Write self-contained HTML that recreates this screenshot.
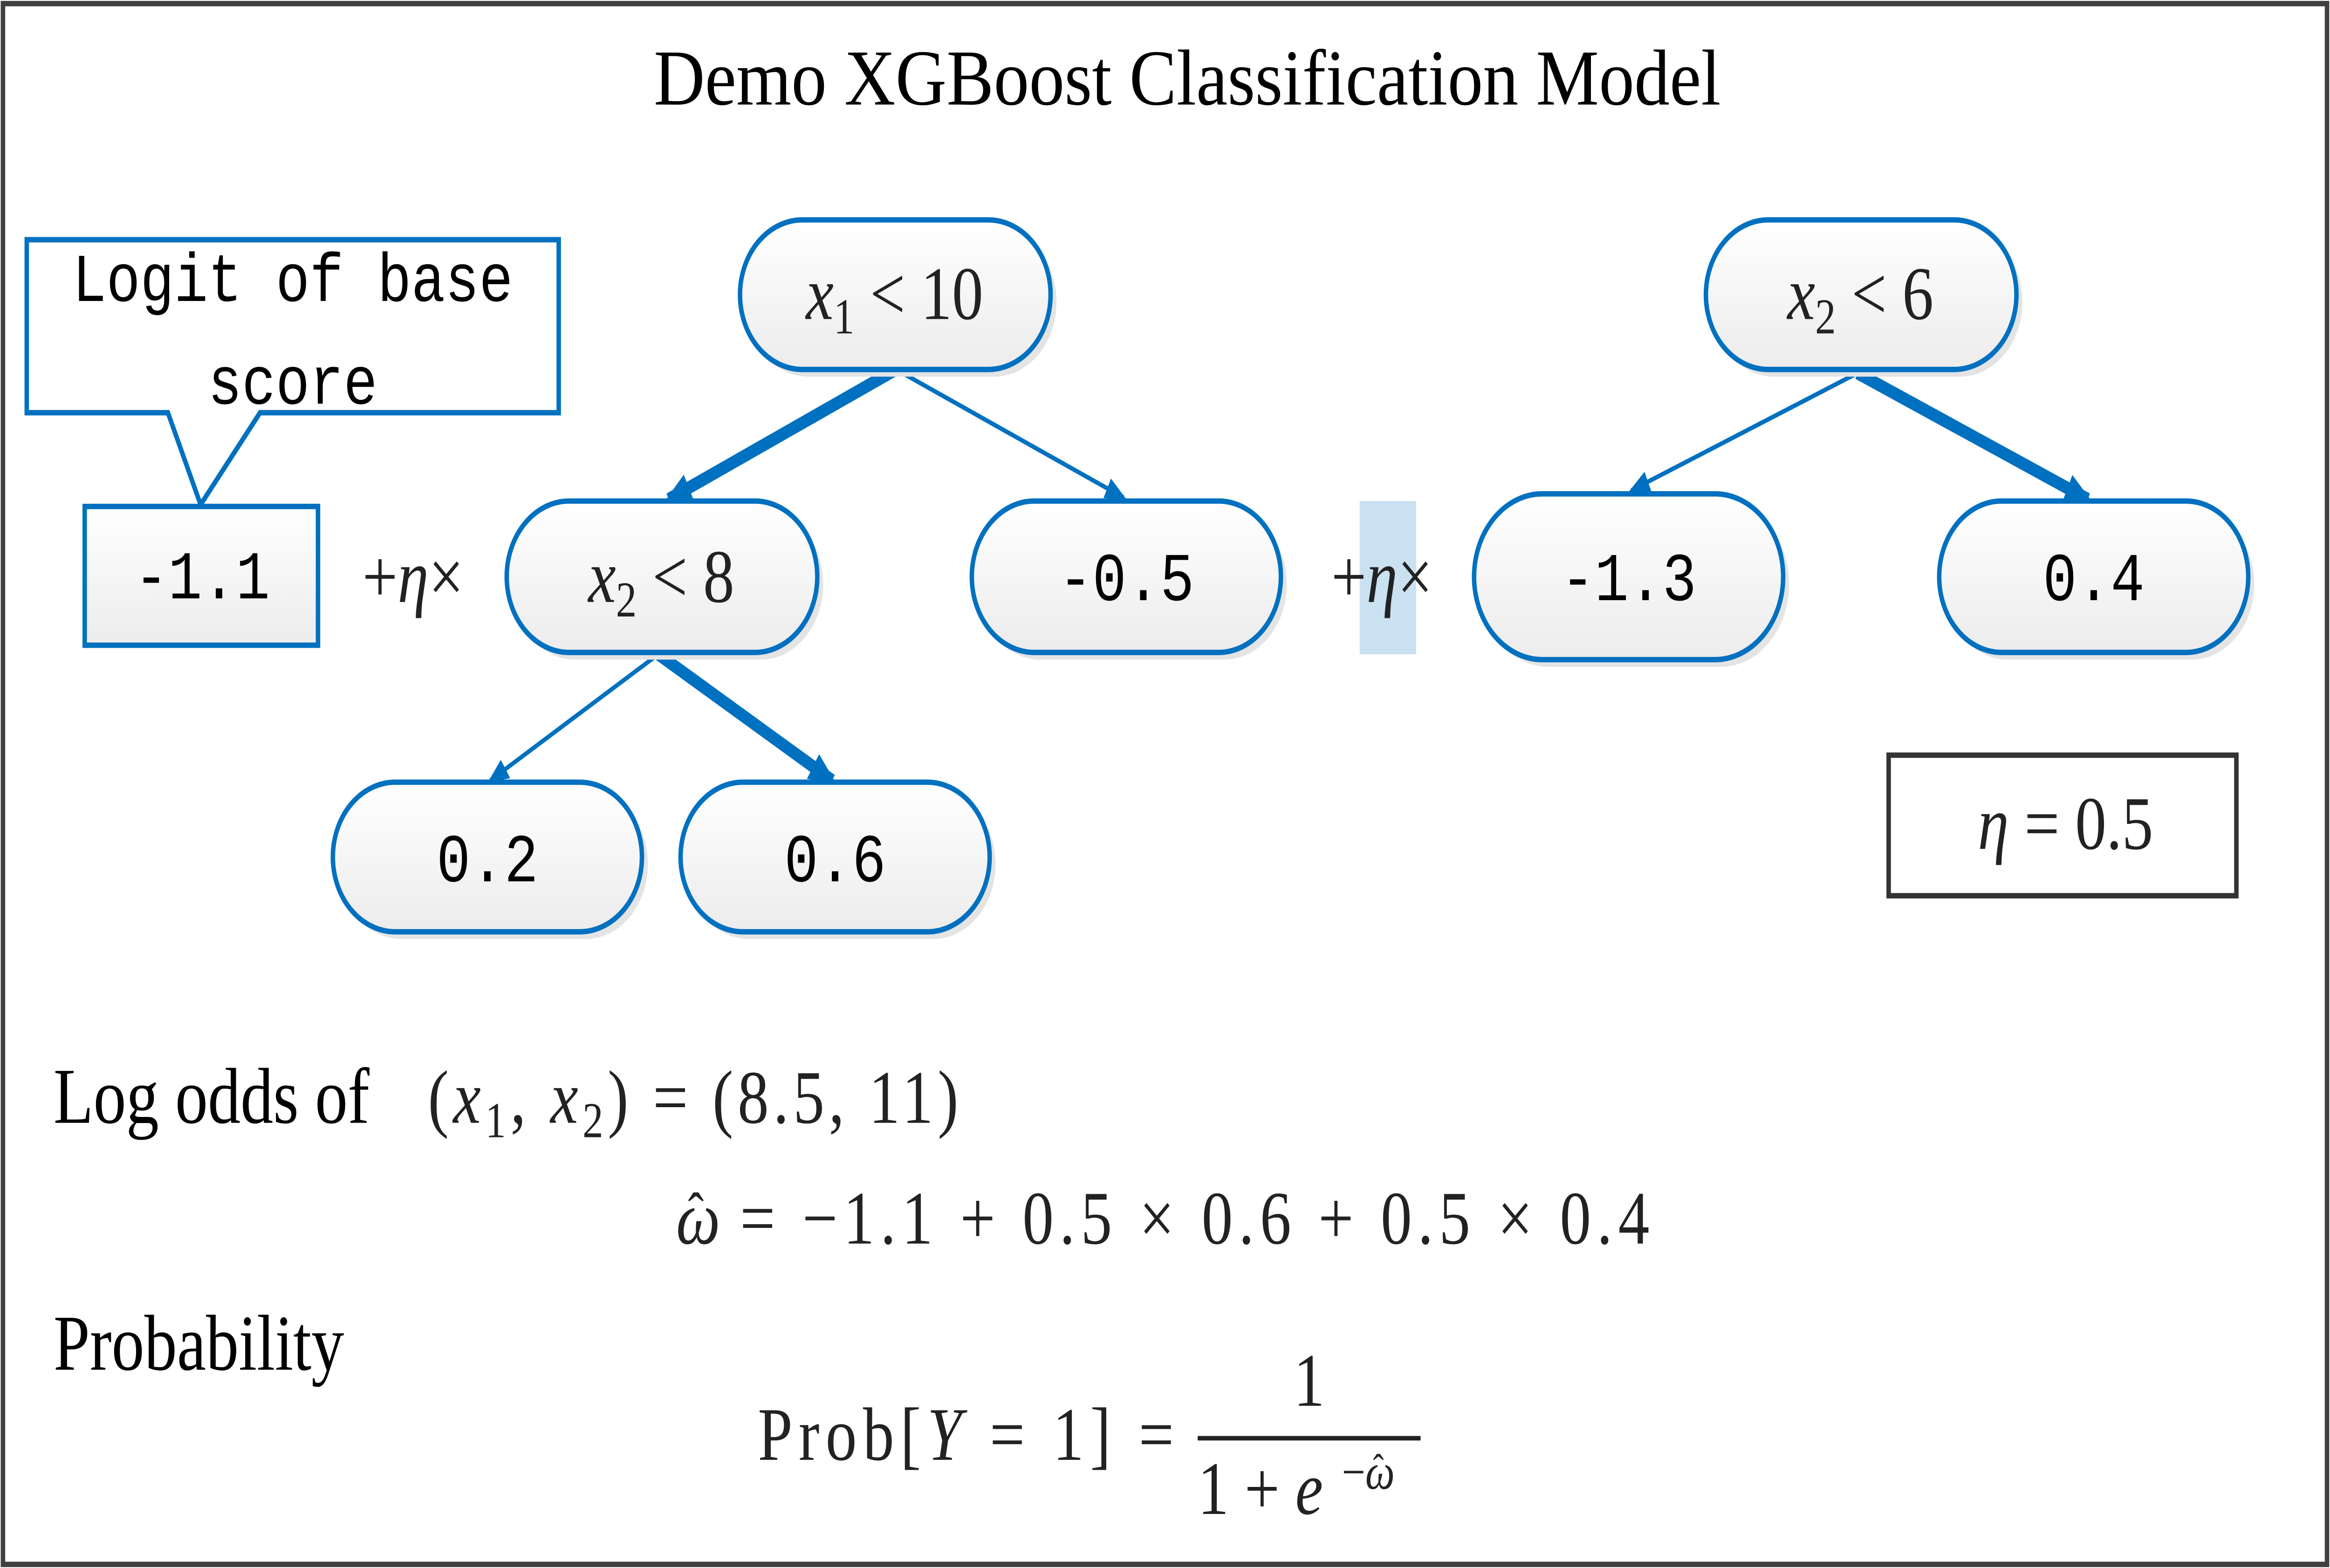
<!DOCTYPE html>
<html><head><meta charset="utf-8"><style>
html,body{margin:0;padding:0;background:#fff;width:100%;height:100%;overflow:hidden;}
svg{display:block;width:100vw;height:100vh;}
.mono{font-family:"Liberation Mono",monospace;font-size:38px;fill:#000;}
.ser{font-family:"Liberation Serif",serif;fill:#000;}
.math{font-family:"Liberation Serif",serif;fill:#222;}
</style></head><body>
<svg viewBox="0 0 1568 870" preserveAspectRatio="none" xmlns="http://www.w3.org/2000/svg">
<defs>
<linearGradient id="g" x1="0" y1="0" x2="0" y2="1"><stop offset="0" stop-color="#ffffff"/><stop offset="1" stop-color="#ececec"/></linearGradient>
<marker id="ahs" markerWidth="14" markerHeight="12" refX="12" refY="6" orient="auto" markerUnits="userSpaceOnUse"><path d="M0,0 L14,6 L0,12 z" fill="#0070C0"/></marker>
<marker id="ahb" markerWidth="18" markerHeight="16" refX="15" refY="8" orient="auto" markerUnits="userSpaceOnUse"><path d="M0,0 L18,8 L0,16 z" fill="#0070C0"/></marker>
</defs>
<rect x="2" y="2" width="1564" height="866" fill="#fff" stroke="#404040" stroke-width="3"/>
<text x="440" y="58" textLength="718" lengthAdjust="spacingAndGlyphs" class="ser" font-size="44">Demo XGBoost Classification Model</text>

<g>
<path d="M18,133 H376 V229 H175 L135,280 L113,229 H18 Z" fill="#fff" stroke="#0070C0" stroke-width="3"/>
<text x="197" y="167" text-anchor="middle" class="mono" xml:space="preserve">Logit of base</text>
<text x="197" y="224" text-anchor="middle" class="mono">score</text>
</g>
<rect x="57" y="281" width="157" height="77" fill="url(#g)" stroke="#0070C0" stroke-width="3"/>
<text x="136" y="332" text-anchor="middle" class="mono">-1.1</text>

<text x="278" y="334" text-anchor="middle" class="math" font-size="42">+<tspan font-style="italic">η</tspan>×</text>
<rect x="915" y="278" width="38" height="85" fill="#c9e1f1"/>
<text x="930" y="334" text-anchor="middle" class="math" font-size="42">+<tspan font-style="italic">η</tspan>×</text>

<g stroke="#0070C0" fill="none">
<line x1="603" y1="205" x2="450" y2="277" stroke-width="7" marker-end="url(#ahb)"/>
<line x1="603" y1="205" x2="756" y2="276" stroke-width="2.5" marker-end="url(#ahs)"/>
<line x1="443" y1="363" x2="330" y2="433" stroke-width="2.5" marker-end="url(#ahs)"/>
<line x1="443" y1="363" x2="560" y2="433" stroke-width="7" marker-end="url(#ahb)"/>
<line x1="1250" y1="207" x2="1098" y2="272" stroke-width="2.5" marker-end="url(#ahs)"/>
<line x1="1250" y1="207" x2="1405" y2="277" stroke-width="7" marker-end="url(#ahb)"/>
</g>

<g>
<g><rect x="502" y="126" width="209" height="83" rx="42" fill="#e4e4e4"/><rect x="498" y="122" width="209" height="83" rx="42" fill="url(#g)" stroke="#0070C0" stroke-width="3"/>
<text x="602" y="177" text-anchor="middle" class="math" font-size="42"><tspan font-style="italic">x</tspan><tspan font-size="28" dy="8">1</tspan><tspan dy="-8"> &lt; 10</tspan></text></g>
<g><rect x="345" y="282" width="209" height="84" rx="42" fill="#e4e4e4"/><rect x="341" y="278" width="209" height="84" rx="42" fill="url(#g)" stroke="#0070C0" stroke-width="3"/>
<text x="445" y="334" text-anchor="middle" class="math" font-size="42"><tspan font-style="italic">x</tspan><tspan font-size="28" dy="8">2</tspan><tspan dy="-8"> &lt; 8</tspan></text></g>
<g><rect x="658" y="282" width="208" height="84" rx="42" fill="#e4e4e4"/><rect x="654" y="278" width="208" height="84" rx="42" fill="url(#g)" stroke="#0070C0" stroke-width="3"/>
<text x="758" y="333" text-anchor="middle" class="mono">-0.5</text></g>
<g><rect x="1152" y="126" width="209" height="83" rx="42" fill="#e4e4e4"/><rect x="1148" y="122" width="209" height="83" rx="42" fill="url(#g)" stroke="#0070C0" stroke-width="3"/>
<text x="1252" y="177" text-anchor="middle" class="math" font-size="42"><tspan font-style="italic">x</tspan><tspan font-size="28" dy="8">2</tspan><tspan dy="-8"> &lt; 6</tspan></text></g>
<g><rect x="996" y="278" width="208" height="92" rx="46" fill="#e4e4e4"/><rect x="992" y="274" width="208" height="92" rx="46" fill="url(#g)" stroke="#0070C0" stroke-width="3"/>
<text x="1096" y="333" text-anchor="middle" class="mono">-1.3</text></g>
<g><rect x="1309" y="282" width="208" height="84" rx="42" fill="#e4e4e4"/><rect x="1305" y="278" width="208" height="84" rx="42" fill="url(#g)" stroke="#0070C0" stroke-width="3"/>
<text x="1409" y="333" text-anchor="middle" class="mono">0.4</text></g>
<g><rect x="228" y="438" width="208" height="83" rx="42" fill="#e4e4e4"/><rect x="224" y="434" width="208" height="83" rx="42" fill="url(#g)" stroke="#0070C0" stroke-width="3"/>
<text x="328" y="489" text-anchor="middle" class="mono">0.2</text></g>
<g><rect x="462" y="438" width="208" height="83" rx="42" fill="#e4e4e4"/><rect x="458" y="434" width="208" height="83" rx="42" fill="url(#g)" stroke="#0070C0" stroke-width="3"/>
<text x="562" y="489" text-anchor="middle" class="mono">0.6</text></g>
</g>

<g>
<rect x="1271" y="419" width="234" height="78" fill="#fff" stroke="#333" stroke-width="3"/>
<text x="1390" y="471" text-anchor="middle" class="math" font-size="42"><tspan font-style="italic">η</tspan> = 0.5</text>
</g>

<text x="36" y="623" class="ser" font-size="44">Log odds of</text>
<text x="288" y="623" textLength="357" lengthAdjust="spacing" class="math" font-size="42">(<tspan font-style="italic">x</tspan><tspan font-size="28" dy="8">1</tspan><tspan dy="-8">, </tspan><tspan font-style="italic">x</tspan><tspan font-size="28" dy="8">2</tspan><tspan dy="-8">) = (8.5, 11)</tspan></text>
<g>
<text x="455" y="690" class="math" font-size="42" font-style="italic">ω</text>
<text x="463" y="684" class="math" font-size="32">ˆ</text>
<text x="498" y="690" textLength="612" lengthAdjust="spacing" class="math" font-size="42">= −1.1 + 0.5 × 0.6 + 0.5 × 0.4</text>
</g>
<text x="36" y="760" class="ser" font-size="44">Probability</text>
<g>
<text x="510" y="810" textLength="280" lengthAdjust="spacing" class="math" font-size="42">Prob[<tspan font-style="italic">Y</tspan> = 1] =</text>
<text x="881" y="780" text-anchor="middle" class="math" font-size="42">1</text>
<line x1="806" y1="798" x2="956" y2="798" stroke="#222" stroke-width="2.5"/>
<text x="806" y="840" class="math" font-size="42">1 + <tspan font-style="italic">e</tspan></text>
<text x="903" y="826" class="math" font-size="28">−<tspan font-style="italic">ω</tspan></text>
<text x="924" y="822" class="math" font-size="22">ˆ</text>
</g>
</svg>
</body></html>
